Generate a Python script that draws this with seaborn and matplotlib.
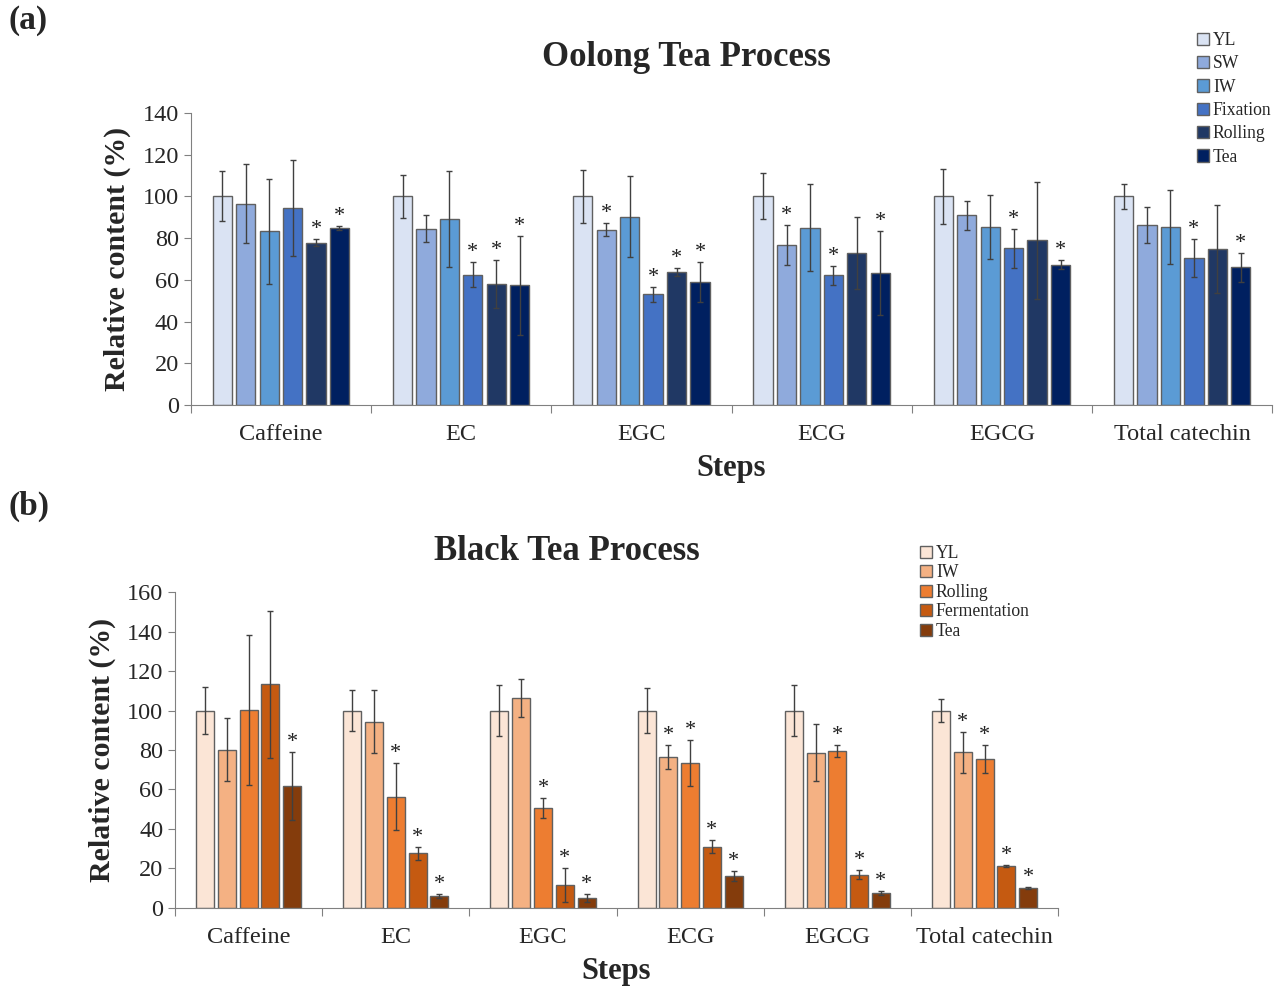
import numpy as np
import pandas as pd
import matplotlib
matplotlib.use("Agg")
import matplotlib.pyplot as plt
import seaborn as sns

# ------------------------ data ------------------------
compounds = ["Caffeine", "EC", "EGC", "ECG", "EGCG", "Total catechin"]

oolong_steps = ["YL", "SW", "IW", "Fixation", "Rolling", "Tea"]
oolong_mean = {
    "YL":       [100, 100, 100, 100, 100, 100],
    "SW":       [96.5, 84.5, 84.0, 76.7, 90.9, 86.3],
    "IW":       [83.2, 89.3, 90.3, 85.0, 85.3, 85.3],
    "Fixation": [94.6, 62.5, 53.0, 62.1, 75.2, 70.4],
    "Rolling":  [77.8, 58.0, 63.7, 73.0, 78.9, 74.8],
    "Tea":      [85.0, 57.3, 59.1, 63.3, 67.3, 66.1],
}
oolong_err = {
    "YL":       [12, 10.5, 12.8, 11, 13, 6],
    "SW":       [19, 6.4, 3.2, 9.4, 7, 8.8],
    "IW":       [25, 23, 19.5, 21, 15.5, 17.6],
    "Fixation": [23, 6, 3.8, 4.6, 9.3, 9],
    "Rolling":  [1.8, 11.5, 1.8, 17.3, 28, 21.2],
    "Tea":      [1, 23.7, 9.6, 20, 2, 7],
}
oolong_sig = {
    "YL":       [0, 0, 0, 0, 0, 0],
    "SW":       [0, 0, 1, 1, 0, 0],
    "IW":       [0, 0, 0, 0, 0, 0],
    "Fixation": [0, 1, 1, 1, 1, 1],
    "Rolling":  [1, 1, 1, 0, 0, 0],
    "Tea":      [1, 1, 1, 1, 1, 1],
}
oolong_colors = ["#dae3f3", "#8faadc", "#5b9bd5", "#4472c4", "#203864", "#002060"]

black_steps = ["YL", "IW", "Rolling", "Fermentation", "Tea"]
black_mean = {
    "YL":           [100, 100, 100, 100, 100, 100],
    "IW":           [80.2, 94.4, 106.3, 76.3, 78.7, 78.8],
    "Rolling":      [100.3, 56.4, 50.6, 73.3, 79.5, 75.3],
    "Fermentation": [113.2, 27.6, 11.8, 31.0, 16.8, 21.3],
    "Tea":          [61.8, 6.1, 5.1, 16.1, 7.6, 10.2],
}
black_err = {
    "YL":           [12, 10.5, 12.7, 11.3, 13, 6],
    "IW":           [16, 16, 9.6, 6, 14.4, 10.5],
    "Rolling":      [38, 17, 5, 11.7, 3.2, 7],
    "Fermentation": [37, 3.2, 8.6, 3.4, 2.2, 0.6],
    "Tea":          [17.4, 1.2, 2.2, 2.5, 1, 0.4],
}
black_sig = {
    "YL":           [0, 0, 0, 0, 0, 0],
    "IW":           [0, 0, 0, 1, 0, 1],
    "Rolling":      [0, 1, 1, 1, 1, 1],
    "Fermentation": [0, 1, 1, 1, 1, 1],
    "Tea":          [1, 1, 1, 1, 1, 1],
}
black_colors = ["#fbe5d6", "#f4b183", "#ed7d31", "#c55a11", "#843c0c"]

# ------------------------ style ------------------------
sns.set_style("white")
plt.rcParams["font.family"] = ["Liberation Serif", "DejaVu Serif"]
plt.rcParams["axes.edgecolor"] = "#808080"


def to_long(steps, mean, err, sig):
    rows = []
    for s in steps:
        for i, c in enumerate(compounds):
            rows.append({"compound": c, "step": s, "value": mean[s][i],
                         "err": err[s][i], "sig": sig[s][i]})
    return pd.DataFrame(rows)


def draw_panel(ax, df, steps, colors, ymax, width, gap, legend_pos, legend_fs, legend_sp):
    sns.barplot(data=df, x="compound", y="value", hue="step", hue_order=steps,
                order=compounds, palette=colors, saturation=1, width=width, gap=gap,
                edgecolor="#606060", linewidth=1.0, errorbar=None, legend=False, ax=ax)
    for k, s in enumerate(steps):
        sub = df[df["step"] == s].set_index("compound").loc[compounds]
        bars = ax.containers[k]
        xs = [b.get_x() + b.get_width() / 2 for b in bars]
        ax.errorbar(xs, sub["value"].values, yerr=sub["err"].values, fmt="none",
                    ecolor="#404040", elinewidth=1.0, capsize=2.5, capthick=1.0, zorder=3)
        for x, v, e, g in zip(xs, sub["value"].values, sub["err"].values, sub["sig"].values):
            if g:
                ax.annotate("*", (x, v + e), xytext=(0, 0), textcoords="offset points",
                            ha="center", va="bottom", fontsize=16, color="#202020")
    ax.set_ylim(0, ymax)
    ax.set_xlim(-0.5, len(compounds) - 0.5)
    ax.set_yticks(np.arange(0, ymax + 1, 20))
    ax.tick_params(axis="y", labelsize=17.5, length=5, color="#808080", left=True)
    # category labels in the middle, tick marks on the boundaries
    ax.set_xticks(np.arange(-0.5, len(compounds)), labels=[""] * (len(compounds) + 1))
    ax.set_xticks(np.arange(len(compounds)), labels=compounds, minor=True)
    ax.tick_params(axis="x", which="major", length=6, color="#808080", bottom=True, direction="out")
    ax.tick_params(axis="x", which="minor", length=0, labelsize=17.5, pad=14)
    for sp in ["top", "right"]:
        ax.spines[sp].set_visible(False)
    ax.set_xlabel("Steps", fontsize=22, fontweight="bold", labelpad=6)
    ax.set_ylabel("Relative content (%)", fontsize=21.5, fontweight="bold", labelpad=8)
    handles = [c.patches[0] for c in ax.containers[:len(steps)]]
    fig = ax.figure
    fig.legend(handles, steps, loc="upper left", bbox_to_anchor=legend_pos,
               frameon=False, fontsize=legend_fs, handlelength=0.7, handleheight=0.7,
               handletextpad=0.2, labelspacing=legend_sp, borderpad=0, borderaxespad=0)


fig = plt.figure(figsize=(12.8, 9.98), dpi=100)
ax1 = fig.add_axes([0.149, 0.5942, 0.845, 0.2926])
ax2 = fig.add_axes([0.1367, 0.0902, 0.690, 0.3166])

df_oolong = to_long(oolong_steps, oolong_mean, oolong_err, oolong_sig)
df_black = to_long(black_steps, black_mean, black_err, black_sig)

draw_panel(ax1, df_oolong, oolong_steps, oolong_colors, 140, 0.78, 0.18,
           (1197 / 1280, 1 - 32 / 998), 12.7, 0.36)
draw_panel(ax2, df_black, black_steps, black_colors, 160, 0.74, 0.17,
           (920 / 1280, 1 - 545 / 998), 12.7, 0.14)

fig.text(686 / 1280, 1 - 58 / 998, "Oolong Tea Process", ha="center", va="center",
         fontsize=25, fontweight="bold")
fig.text(567 / 1280, 1 - 552 / 998, "Black Tea Process", ha="center", va="center",
         fontsize=25, fontweight="bold")
fig.text(9 / 1280, 1 - 21 / 998, "(a)", ha="left", va="center", fontsize=24, fontweight="bold")
fig.text(9 / 1280, 1 - 506 / 998, "(b)", ha="left", va="center", fontsize=24, fontweight="bold")

fig.savefig("out.png", dpi=100)
